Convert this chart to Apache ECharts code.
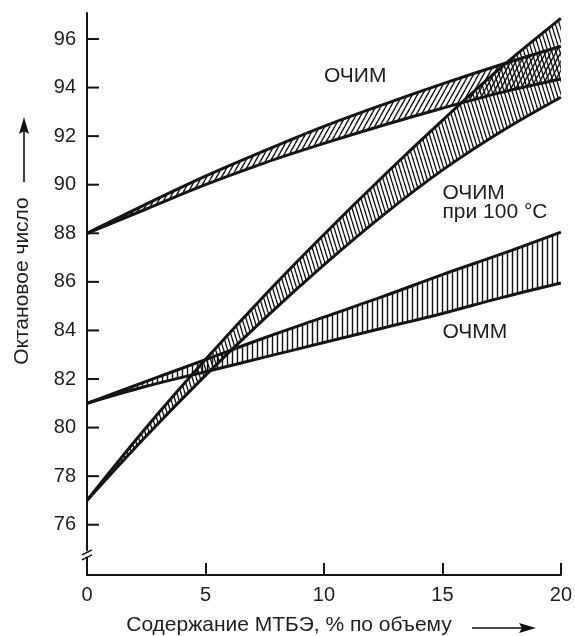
<!DOCTYPE html>
<html><head><meta charset="utf-8">
<script src="https://cdn.jsdelivr.net/npm/echarts@6/dist/echarts.min.js"></script>
<style>html,body{margin:0;padding:0;background:#fff}#c{width:575px;height:636px}</style>
</head><body><div id="c"></div>
<script>
// ---- data ----
const xValues     = [0, 2.5, 5, 7.5, 10, 12.5, 15, 17.5, 20];
const ronUpper    = [88, 89.2, 90.35, 91.4, 92.4, 93.3, 94.15, 94.95, 95.7];
const ronLower    = [88, 89.0, 90.0, 90.9, 91.7, 92.45, 93.15, 93.8, 94.35];
const ron100Upper = [77, 80.0, 82.8, 85.45, 87.95, 90.35, 92.65, 94.85, 96.85];
const ron100Lower = [77, 79.65, 82.15, 84.5, 86.7, 88.75, 90.6, 92.2, 93.6];
const monUpper    = [81, 81.9, 82.8, 83.7, 84.55, 85.4, 86.3, 87.15, 88.05];
const monLower    = [81, 81.7, 82.3, 82.9, 83.5, 84.1, 84.7, 85.35, 85.95];
const yTicks = [76, 78, 80, 82, 84, 86, 88, 90, 92, 94, 96];
const bandNames = ['ОЧИМ', 'ОЧИМ при 100 °C', 'ОЧММ'];
const labelTexts = ['ОЧИМ', 'ОЧИМ', 'при 100 °C', 'ОЧММ'];
const labelAnchors = [[10.3, 94.45], [14.9, 89.65], [14.9, 88.87], [14.65, 83.93]];
const xTitle = 'Содержание МТБЭ, % по объему';
const yTitle = 'Октановое число';

// ---- hatch patterns ----
function makeHatch(w, h, kind, lw) {
  const c = document.createElement('canvas');
  c.width = w; c.height = h;
  const g = c.getContext('2d');
  g.strokeStyle = '#111'; g.lineWidth = lw;
  for (let k = -1; k <= 1; k++) {
    g.beginPath();
    if (kind === '/') { g.moveTo(k * w, h); g.lineTo(k * w + w, 0); }
    else if (kind === '\\') { g.moveTo(k * w, 0); g.lineTo(k * w + w, h); }
    else { g.moveTo(w / 2 + k * w, 0); g.lineTo(w / 2 + k * w, h); }
    g.stroke();
  }
  return { image: c, repeat: 'repeat' };
}
const patRon = makeHatch(5, 9, '/', 1.35);
const patRon100 = makeHatch(4, 13, '\\', 1.3);
const patMon = makeHatch(5, 4, '|', 1.4);

const lineCol = '#141414';
function band(name, lower, upper, pat) {
  const diff = upper.map((u, i) => +(u - lower[i]).toFixed(3));
  const common = { type: 'line', stack: name, smooth: 0.35, symbol: 'none', silent: true,
    lineStyle: { color: lineCol, width: 3 } };
  return [
    Object.assign({}, common, { name: name + '_low', data: lower.slice(), z: 3 }),
    Object.assign({}, common, { name: name, data: diff, z: 3, areaStyle: { color: pat, opacity: 1 } })
  ];
}

const chart = echarts.init(document.getElementById('c'), null, { renderer: 'canvas' });
const font = '"Liberation Sans", Arial, Helvetica, sans-serif';
const txtCol = '#1e1e1e';
const option = {
  animation: false,
  backgroundColor: '#fff',
  grid: { left: 87, right: 13, top: 13, bottom: 61, containLabel: false },
  xAxis: {
    type: 'category', boundaryGap: false, data: xValues.map(String),
    axisLine: { show: true, lineStyle: { color: lineCol, width: 2 } },
    axisTick: { show: true, inside: true, length: 12, interval: 1, lineStyle: { color: lineCol, width: 2 } },
    axisLabel: { margin: 10, fontSize: 20, color: txtCol, fontFamily: font, interval: 1 },
    splitLine: { show: false }
  },
  yAxis: {
    type: 'value', min: 73.93, max: 97.07,
    axisLine: { show: true, onZero: false, lineStyle: { color: lineCol, width: 2 } },
    axisTick: { show: false },
    axisLabel: { margin: 11, fontSize: 20, color: txtCol, fontFamily: font, customValues: yTicks,
      formatter: v => String(Math.round(v)) },
    splitLine: { show: false }
  },
  series: [].concat(
    band(bandNames[0], ronLower, ronUpper, patRon),
    band(bandNames[1], ron100Lower, ron100Upper, patRon100),
    band(bandNames[2], monLower, monUpper, patMon)
  )
};
chart.setOption(option);

// x in data units -> category index
const xStep = xValues[1] - xValues[0];
function toPx(pt) { return chart.convertToPixel('grid', [pt[0] / xStep, pt[1]]); }

// ---- annotations, titles, arrows, axis break, y ticks ----
const gfx = [];
yTicks.forEach(v => {
  const p = toPx([0, v]);
  gfx.push({ type: 'line', z: 5, shape: { x1: p[0], y1: p[1], x2: p[0] + 12, y2: p[1] },
    style: { stroke: lineCol, lineWidth: 2 } });
});
labelTexts.forEach((t, i) => {
  const p = toPx(labelAnchors[i]);
  gfx.push({ type: 'text', x: p[0], y: p[1], z: 10,
    style: { text: t, fill: txtCol, font: '21px ' + font, textAlign: 'left', textVerticalAlign: 'middle' } });
});
// x axis title + arrow
gfx.push({ type: 'text', x: 289, y: 625, z: 10,
  style: { text: xTitle, fill: txtCol, font: '21px ' + font, textAlign: 'center', textVerticalAlign: 'middle' } });
gfx.push({ type: 'line', z: 10, shape: { x1: 472, y1: 628, x2: 524, y2: 628 }, style: { stroke: '#111', lineWidth: 1.6 } });
gfx.push({ type: 'polygon', z: 10, shape: { points: [[536, 628], [519, 623], [522, 628], [519, 633]] }, style: { fill: '#111' } });
// y axis title + arrow
gfx.push({ type: 'text', x: 22, y: 281, rotation: Math.PI / 2, z: 10,
  style: { text: yTitle, fill: txtCol, font: '21px ' + font, textAlign: 'center', textVerticalAlign: 'middle' } });
gfx.push({ type: 'line', z: 10, shape: { x1: 24, y1: 182, x2: 24, y2: 130 }, style: { stroke: '#111', lineWidth: 1.6 } });
gfx.push({ type: 'polygon', z: 10, shape: { points: [[24, 117], [19, 134], [24, 131], [29, 134]] }, style: { fill: '#111' } });
// axis break
const bp = toPx([0, 74.8]);
gfx.push({ type: 'rect', z: 10, shape: { x: bp[0] - 3, y: bp[1] - 3, width: 6, height: 6 }, style: { fill: '#fff' } });
gfx.push({ type: 'line', z: 11, shape: { x1: bp[0] - 5, y1: bp[1] + 1, x2: bp[0] + 5, y2: bp[1] - 4 }, style: { stroke: '#111', lineWidth: 1.6 } });
gfx.push({ type: 'line', z: 11, shape: { x1: bp[0] - 5, y1: bp[1] + 6, x2: bp[0] + 5, y2: bp[1] + 1 }, style: { stroke: '#111', lineWidth: 1.6 } });
chart.setOption({ graphic: gfx });
</script>
</body></html>
